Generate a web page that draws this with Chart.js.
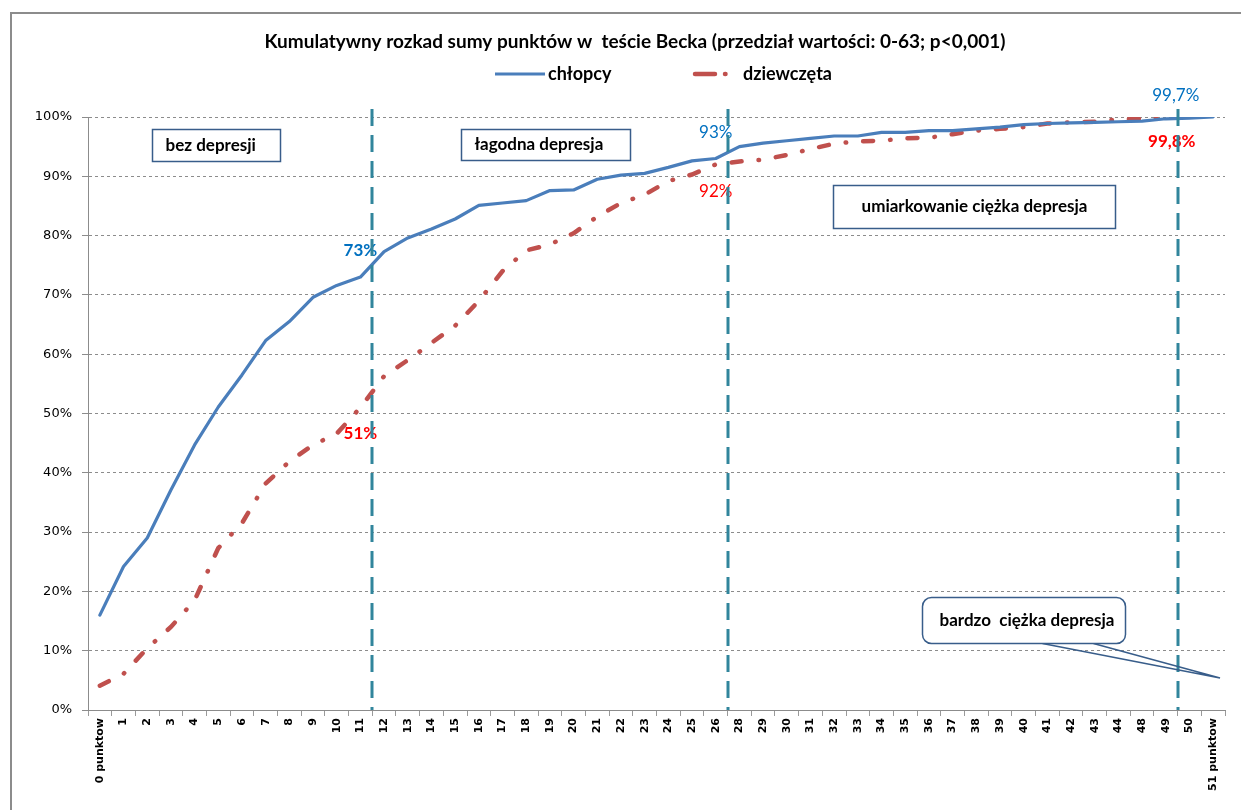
<!DOCTYPE html>
<html lang="pl">
<head>
<meta charset="utf-8">
<title>Kumulatywny rozkład sumy punktów w teście Becka</title>
<script src="https://cdn.jsdelivr.net/npm/chart.js@4.4.1/dist/chart.umd.min.js"></script>
<style>
  html, body { margin: 0; padding: 0; background: #fff; overflow: hidden; }
  #frame { position: absolute; left: 10px; top: 12px; width: 1280px; height: 840px;
           border: 2px solid #8c8c8c; box-sizing: border-box; }
  #chart { position: absolute; left: 0; top: 0; }
</style>
</head>
<body>
<div id="frame"></div>
<canvas id="chart" width="1241" height="810"></canvas>
<script>
// Beck Depression Inventory score buckets (x axis)
const categories = [
  '0 punktow', '1', '2', '3', '4', '5', '6', '7', '8', '9', '10', '11', '12', '13',
  '14', '15', '16', '17', '18', '19', '20', '21', '22', '23', '24', '25', '26',
  '28', '29', '30', '31', '32', '33', '34', '35', '36', '37', '38', '39', '40',
  '41', '42', '43', '44', '48', '49', '50', '51 punktow'
];

// Cumulative share of respondents, %
const boys = [
  16.0, 24.2, 29.0, 37.1, 44.7, 51.1, 56.5, 62.3, 65.5, 69.6, 71.6, 73,
  77.3, 79.6, 81.1, 82.8, 85.1, 85.5, 85.9, 87.6, 87.7, 89.5, 90.2, 90.5,
  91.5, 92.6, 93, 95.0, 95.6, 96.0, 96.4, 96.8, 96.8, 97.4, 97.4, 97.7,
  97.7, 98.0, 98.3, 98.7, 98.9, 99.0, 99.1, 99.2, 99.3, 99.7, 99.8, 100
];
const girls = [
  4.1, 6.1, 10.4, 14.0, 18.5, 27.3, 31.5, 38.2, 41.9, 44.7, 46.6, 51,
  56.3, 59.0, 61.9, 64.8, 69.0, 74.0, 77.5, 78.5, 80.4, 83.2, 85.5, 86.9,
  89.2, 90.3, 92, 92.5, 92.8, 93.6, 94.6, 95.5, 95.9, 96.0, 96.4, 96.5,
  97.1, 97.7, 98.0, 98.3, 98.9, 99.1, 99.2, 99.6, 99.7, 99.8, null, null
];

const seriesNames = ['chłopcy', 'dziewczęta'];
const yTickValues = [0, 10, 20, 30, 40, 50, 60, 70, 80, 90, 100];

// Cut-offs between severity bands: drawn between these neighbouring buckets
const severityBreaks = [['11', '12'], ['26', '28'], ['49', '50']];
const severityNames = ['bez depresji', 'łagodna depresja', 'umiarkowanie ciężka depresja', 'bardzo  ciężka depresja'];

// Values annotated at each cut-off: [series index, bucket]
const annotatedPoints = [[0, '11'], [1, '11'], [0, '26'], [1, '26'], [0, '49'], [1, '49']];

const TITLE = 'Kumulatywny rozkad sumy punktów w  teście Becka (przedział wartości: 0-63; p<0,001)';
const SANS = 'Lato, "Open Sans", sans-serif';
const BOX_EDGE = '#385D8A';

const pct = v => (Number.isInteger(v) ? String(v) : v.toFixed(1).replace('.', ',')) + '%';

// where each annotation sits relative to its point, and how it looks
const labelStyle = [
  { dx: 0,  dy: -27, weight: 'bold' },
  { dx: 0,  dy: 26,  weight: 'bold' },
  { dx: 0,  dy: -26, weight: 'normal' },
  { dx: 0,  dy: 27,  weight: 'normal' },
  { dx: 10, dy: -23, weight: 'normal' },
  { dx: 6,  dy: 23,  weight: 'bold' }
];
const seriesTextColor = ['#0070C0', '#FF0000'];

// band captions: anchor in (bucket index, %) + box size in px
const bandBoxes = [
  { name: 0, at: [2.20, 98.0],  w: 128, h: 32, align: 'left' },
  { name: 1, at: [15.25, 98.0], w: 169, h: 31, align: 'left' },
  { name: 2, at: [30.95, 88.5], w: 282, h: 43, align: 'center' }
];
const calloutBox = { name: 3, at: [34.71, 19.06], w: 203, h: 46, r: 9, tip: [47.29, 5.4], base: [120, 171] };

const overlay = {
  id: 'bandOverlay',
  afterDatasetsDraw(chart) {
    const { ctx, chartArea, scales: { x } } = chart;

    // value annotations at the cut-offs
    ctx.save();
    ctx.textAlign = 'center';
    ctx.textBaseline = 'middle';
    annotatedPoints.forEach(([s, cat], k) => {
      const i = categories.indexOf(cat);
      const el = chart.getDatasetMeta(s).data[i];
      const v = chart.data.datasets[s].data[i];
      const st = labelStyle[k];
      ctx.font = `${st.weight} 17px ${SANS}`;
      ctx.fillStyle = seriesTextColor[s];
      ctx.fillText(pct(v), el.x + st.dx, el.y + st.dy);
    });
    ctx.restore();

    // severity cut-off lines
    ctx.save();
    ctx.strokeStyle = '#31859C';
    ctx.lineWidth = 3;
    ctx.setLineDash([17, 9]);
    severityBreaks.forEach(([a, b]) => {
      const px = Math.round((x.getPixelForValue(categories.indexOf(a)) + x.getPixelForValue(categories.indexOf(b))) / 2);
      ctx.beginPath();
      ctx.moveTo(px, chartArea.top - 8);
      ctx.lineTo(px, chartArea.bottom);
      ctx.stroke();
    });
    ctx.restore();
  },
  afterDraw(chart) {
    const { ctx, scales: { x, y } } = chart;
    ctx.save();

    // title
    ctx.fillStyle = '#000';
    ctx.textAlign = 'center';
    ctx.textBaseline = 'middle';
    ctx.font = `bold 19px ${SANS}`;
    ctx.fillText(TITLE, 635, 42);

    ctx.font = `bold 17px ${SANS}`;
    ctx.lineWidth = 1.5;
    ctx.strokeStyle = BOX_EDGE;

    bandBoxes.forEach(b => {
      const left = Math.round(x.getPixelForValue(b.at[0])) + 0.5;
      const top = Math.round(y.getPixelForValue(b.at[1])) + 0.5;
      ctx.fillStyle = '#fff';
      ctx.fillRect(left, top, b.w, b.h);
      ctx.strokeRect(left, top, b.w, b.h);
      ctx.fillStyle = '#000';
      if (b.align === 'left') {
        ctx.textAlign = 'left';
        ctx.fillText(severityNames[b.name], left + 13, top + b.h / 2);
      } else {
        ctx.textAlign = 'center';
        ctx.fillText(severityNames[b.name], left + b.w / 2, top + b.h / 2);
      }
    });

    // rounded callout with a pointer
    const c = calloutBox;
    const cl = Math.round(x.getPixelForValue(c.at[0])) + 0.5;
    const ct = Math.round(y.getPixelForValue(c.at[1])) + 0.5;
    const tx = x.getPixelForValue(c.tip[0]);
    const ty = y.getPixelForValue(c.tip[1]);
    ctx.beginPath();
    ctx.moveTo(cl + c.base[0], ct + c.h);
    ctx.lineTo(tx, ty);
    ctx.lineTo(cl + c.base[1], ct + c.h);
    ctx.stroke();
    ctx.beginPath();
    ctx.roundRect(cl, ct, c.w, c.h, c.r);
    ctx.fillStyle = '#fff';
    ctx.fill();
    ctx.stroke();
    ctx.fillStyle = '#000';
    ctx.textAlign = 'center';
    ctx.fillText(severityNames[c.name], cl + c.w / 2 + 3, ct + c.h / 2);

    // legend
    const ly = 74;
    let lx = 495;
    const sampleLen = [50, 40];
    const sampleDash = [[], [20, 10, 0.5, 10]];
    ctx.font = `bold 18px ${SANS}`;
    ctx.textAlign = 'left';
    chart.data.datasets.forEach((ds, k) => {
      ctx.save();
      ctx.strokeStyle = ds.borderColor;
      ctx.lineWidth = ds.borderWidth;
      ctx.lineCap = k === 0 ? 'butt' : 'round';
      ctx.setLineDash(sampleDash[k]);
      ctx.beginPath();
      ctx.moveTo(lx, ly);
      ctx.lineTo(lx + sampleLen[k], ly);
      ctx.stroke();
      ctx.restore();
      ctx.fillStyle = '#000';
      const tx0 = lx + sampleLen[k] + (k === 0 ? 3 : 8);
      ctx.fillText(ds.label, tx0, ly);
      lx = 695;
    });
    ctx.restore();
  }
};

new Chart(document.getElementById('chart'), {
  type: 'line',
  data: {
    labels: categories,
    datasets: [
      {
        label: seriesNames[0], data: boys,
        borderColor: '#4A7EBB', borderWidth: 3.2,
        pointRadius: 0, tension: 0, fill: false,
        borderJoinStyle: 'round', borderCapStyle: 'round'
      },
      {
        label: seriesNames[1], data: girls,
        borderColor: '#C0504D', borderWidth: 4.5,
        borderDash: [10, 17, 0.5, 17], borderCapStyle: 'round',
        pointRadius: 0, tension: 0, fill: false, spanGaps: false
      }
    ]
  },
  options: {
    responsive: false,
    animation: false,
    layout: { padding: { left: 14, right: 16, top: 117, bottom: 0 } },
    plugins: {
      legend: { display: false },
      tooltip: { enabled: false },
      title: { display: false }
    },
    scales: {
      x: {
        type: 'category',
        offset: true,
        afterFit(scale) { scale.height = 100; },
        grid: {
          display: true, offset: true, drawOnChartArea: false, drawTicks: true,
          tickLength: 6, color: '#9a9a9a', tickColor: '#9a9a9a'
        },
        border: { display: true, color: '#8c8c8c', width: 1 },
        ticks: {
          autoSkip: false, minRotation: 90, maxRotation: 90, padding: 2,
          color: '#000',
          font: { family: '"DejaVu Sans", sans-serif', size: 11, weight: 'bold' }
        }
      },
      y: {
        min: 0, max: 100,
        afterFit(scale) { scale.width = 74; },
        afterBuildTicks(scale) { scale.ticks = yTickValues.map(v => ({ value: v })); },
        grid: {
          color: '#8c8c8c', lineWidth: 1, drawTicks: true, tickLength: 6,
          tickColor: '#8c8c8c', tickBorderDash: []
        },
        border: { display: true, color: '#8c8c8c', width: 1, dash: [3, 3] },
        ticks: {
          padding: 10, color: '#000',
          font: { family: '"DejaVu Sans", sans-serif', size: 13 },
          callback: v => v + '%'
        }
      }
    }
  },
  plugins: [overlay]
});
</script>
</body>
</html>
